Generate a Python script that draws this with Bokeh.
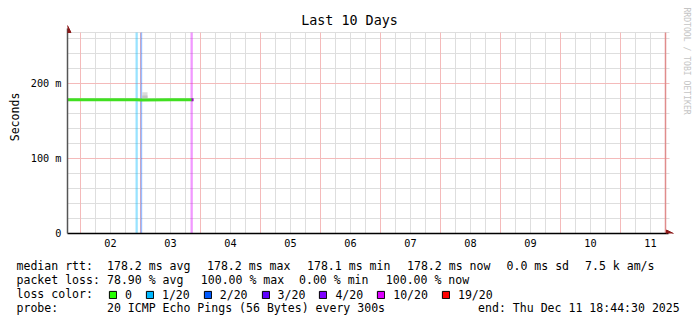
from bokeh.plotting import figure
from bokeh.layouts import column
from bokeh.models import (FixedTicker, Label, Legend, LegendItem, Arrow, NormalHead, Range1d)
from bokeh.embed import file_html
from bokeh.resources import INLINE

# ---------------- data ----------------
# time in days after 2025-12-01 00:00
x_start = 0.7833
x_end = 10.75
y_max = 268.0

day_boundaries = [1, 2, 3, 4, 5, 6, 7, 8, 9, 10]
day_label_pos = [1.5, 2.5, 3.5, 4.5, 5.5, 6.5, 7.5, 8.5, 9.5, 10.5]
day_labels = ["02", "03", "04", "05", "06", "07", "08", "09", "10", "11"]

y_ticks = [0, 100, 200]
y_tick_labels = ["0", "100 m", "200 m"]
y_minor = [20, 40, 60, 80, 120, 140, 160, 180, 220, 240, 260]

median_t = [0.7833, 1.50, 1.937, 2.013, 2.50, 2.862]
median_ms = [178.2, 178.2, 178.2, 178.1, 178.2, 178.2]

last_seg_t = [2.850, 2.885]
last_seg_ms = [178.2, 178.2]

smoke_left = [2.028]
smoke_right = [2.117]
smoke_lo = [180.4]
smoke_mid = [184.0]
smoke_hi = [188.4]

lossbar_left = [1.917, 2.000, 2.833]
lossbar_right = [1.955, 2.028, 2.872]
lossbar_color = ["#00b8ff", "#0059ff", "#dd00ff"]

loss_labels = ["0", "1/20", "2/20", "3/20", "4/20", "10/20", "19/20"]
loss_colors = ["#26ff00", "#00b8ff", "#0059ff", "#5e00ff", "#7e00ff", "#dd00ff", "#ff0000"]

rtt_texts = ["median rtt:", "178.2 ms avg", "178.2 ms max", "178.1 ms min",
             "178.2 ms now", "0.0 ms sd", "7.5 k am/s"]
loss_texts = ["packet loss:", "78.90 % avg", "100.00 % max", "0.00 % min", "100.00 % now"]
probe_texts = ["probe:", "20 ICMP Echo Pings (56 Bytes) every 300s",
               "end: Thu Dec 11 18:44:30 2025"]

# ---------------- layout ----------------
W = 697
H1, H2 = 250, 71
FL, FB = 67, 233          # frame left / bottom (canvas px)
PX_DAY = 60.0             # px per day
PX_Y = 0.75               # px per ms
MONO = "DejaVu Sans Mono"
FS = "11.56px"
FS_AX = "10.2px"

x_hi = x_start + (W - FL) / PX_DAY
y_hi = FB / PX_Y

p = figure(width=W, height=H1, output_backend="svg", toolbar_location=None,
           x_range=Range1d(x_start, x_hi), y_range=Range1d(0, y_hi),
           min_border_left=FL, min_border_right=0, min_border_top=0,
           min_border_bottom=H1 - FB, frame_align=False)
p.background_fill_color = "white"
p.border_fill_color = "white"
p.outline_line_color = None
p.xgrid.visible = False
p.ygrid.visible = False

# axes
for ax in (p.xaxis[0], p.yaxis[0]):
    ax.major_tick_out = 0
    ax.major_tick_in = 0
    ax.minor_tick_out = 0
    ax.minor_tick_in = 0
    ax.major_label_text_font = MONO
    ax.major_label_text_font_size = FS_AX
    ax.major_label_text_color = "black"
p.xaxis.ticker = FixedTicker(ticks=day_label_pos)
p.xaxis.major_label_overrides = {k: v for k, v in zip(day_label_pos, day_labels)}
p.xaxis.axis_line_color = "black"
p.xaxis.axis_line_width = 1.5
p.xaxis.major_label_standoff = 5
p.xaxis.bounds = (x_start, x_end + 3 / PX_DAY)

p.yaxis.ticker = FixedTicker(ticks=y_ticks)
p.yaxis.major_label_overrides = {k: v for k, v in zip(y_ticks, y_tick_labels)}
p.yaxis.axis_line_color = "#555555"
p.yaxis.axis_line_width = 1.5
p.yaxis.major_label_standoff = 6
p.yaxis.bounds = (0, y_max + 4 / PX_Y)
p.yaxis.axis_label = "Seconds"
p.yaxis.axis_label_text_font = MONO
p.yaxis.axis_label_text_font_size = FS
p.yaxis.axis_label_text_font_style = "normal"
p.yaxis.axis_label_text_color = "black"
p.yaxis.axis_label_standoff = 6

# grid lines (drawn from the tick positions)
grid_grey = "#dedede"
grid_red = "#f4baba"
minor_x = [d + f for d in [0] + day_boundaries for f in (0.25, 0.5, 0.75)]
minor_x = [v for v in minor_x if x_start < v < x_end]
h_end = x_end + 4 / PX_DAY
p.segment(x0=minor_x, y0=0, x1=minor_x, y1=y_max, line_color=grid_grey, line_width=1)
p.segment(x0=x_start, y0=y_minor + [y_max], x1=h_end, y1=y_minor + [y_max],
          line_color=grid_grey, line_width=1)
p.segment(x0=day_boundaries, y0=0, x1=day_boundaries, y1=y_max, line_color=grid_red, line_width=1)
p.segment(x0=x_start, y0=y_ticks[1:], x1=h_end, y1=y_ticks[1:], line_color=grid_red, line_width=1)
p.segment(x0=[x_end], y0=0, x1=[x_end], y1=y_max, line_color="#e08c8c", line_width=1.5)

# loss bars
p.quad(left=lossbar_left, right=lossbar_right, bottom=0, top=y_max,
       fill_color=lossbar_color, fill_alpha=0.4, line_color=None)

# smoke
p.quad(left=smoke_left, right=smoke_right, bottom=smoke_lo, top=smoke_hi,
       fill_color="#dcdcdc", line_color=None)
p.quad(left=smoke_left, right=smoke_right, bottom=smoke_lo, top=smoke_mid,
       fill_color="#c4c4c4", line_color=None)

# median
p.line(median_t, median_ms, line_color="#40e020", line_width=3, line_cap="butt")
p.line(last_seg_t, last_seg_ms, line_color="#9a10c0", line_width=3, line_cap="butt")

# axis arrows
arrow_col = "#8b1a1a"
p.add_layout(Arrow(end=NormalHead(size=7, fill_color=arrow_col, line_color=arrow_col),
                   x_start=x_start, y_start=y_max, x_end=x_start, y_end=y_max + 9.3,
                   line_alpha=0))
p.add_layout(Arrow(end=NormalHead(size=7, fill_color=arrow_col, line_color=arrow_col),
                   x_start=x_end, y_start=0, x_end=x_end + 8 / PX_DAY, y_end=0,
                   line_alpha=0))


def txt1(s, cx, by, size=FS, color="black", align="left", baseline="alphabetic", angle=0.0):
    p.add_layout(Label(x=cx - FL, y=FB - by, x_units="screen", y_units="screen", text=s,
                       text_font=MONO, text_font_size=size, text_color=color,
                       text_align=align, text_baseline=baseline, angle=angle))


txt1("Last 10 Days", 349, 20, size="13.4px", align="center")
txt1("RRDTOOL / TOBI OETIKER", 686.5, 7, size="8.1px", color="#c4c4c4",
     baseline="middle", angle=-1.5708)

# ---------------- legend block ----------------
q = figure(width=W, height=H2, output_backend="svg", toolbar_location=None,
           x_range=Range1d(0, W), y_range=Range1d(H2, 0),
           x_axis_type=None, y_axis_type=None, frame_align=False,
           min_border_left=0, min_border_right=0, min_border_top=0, min_border_bottom=0)
q.outline_line_color = None
q.xgrid.visible = False
q.ygrid.visible = False
q.background_fill_color = "white"
q.border_fill_color = "white"


def txt2(s, cx, by):
    q.add_layout(Label(x=cx, y=by - H1, text=s, text_font=MONO, text_font_size=FS,
                       text_color="black", text_align="left", text_baseline="alphabetic"))


rtt_x = [16, 106.5, 206.5, 306.5, 406.5, 506, 584.5]
for s, xx in zip(rtt_texts, rtt_x):
    txt2(s, xx, 265)
loss_x = [16, 106.5, 200.3, 298.5, 385.3]
for s, xx in zip(loss_texts, loss_x):
    txt2(s, xx, 279)
txt2("loss color:", 16, 293)
probe_x = [16, 106.5, 477.6]
for s, xx in zip(probe_texts, probe_x):
    txt2(s, xx, 307)

nan = float("nan")
items = []
for lab, col in zip(loss_labels, loss_colors):
    r = q.quad(left=[nan], right=[nan], top=[nan], bottom=[nan],
               fill_color=col, line_color="black", line_width=1)
    items.append(LegendItem(label=lab, renderers=[r]))
legend = Legend(items=items, orientation="horizontal", location=(108, H1 + H2 - 302),
                glyph_width=9, glyph_height=9, label_standoff=8, spacing=13,
                padding=0, margin=0, border_line_color=None, background_fill_alpha=0,
                label_text_font=MONO, label_text_font_size=FS, label_text_color="black",
                label_height=15, label_width=0)
q.add_layout(legend)

open("out.html", "w").write(file_html(column(p, q, spacing=0), INLINE))
